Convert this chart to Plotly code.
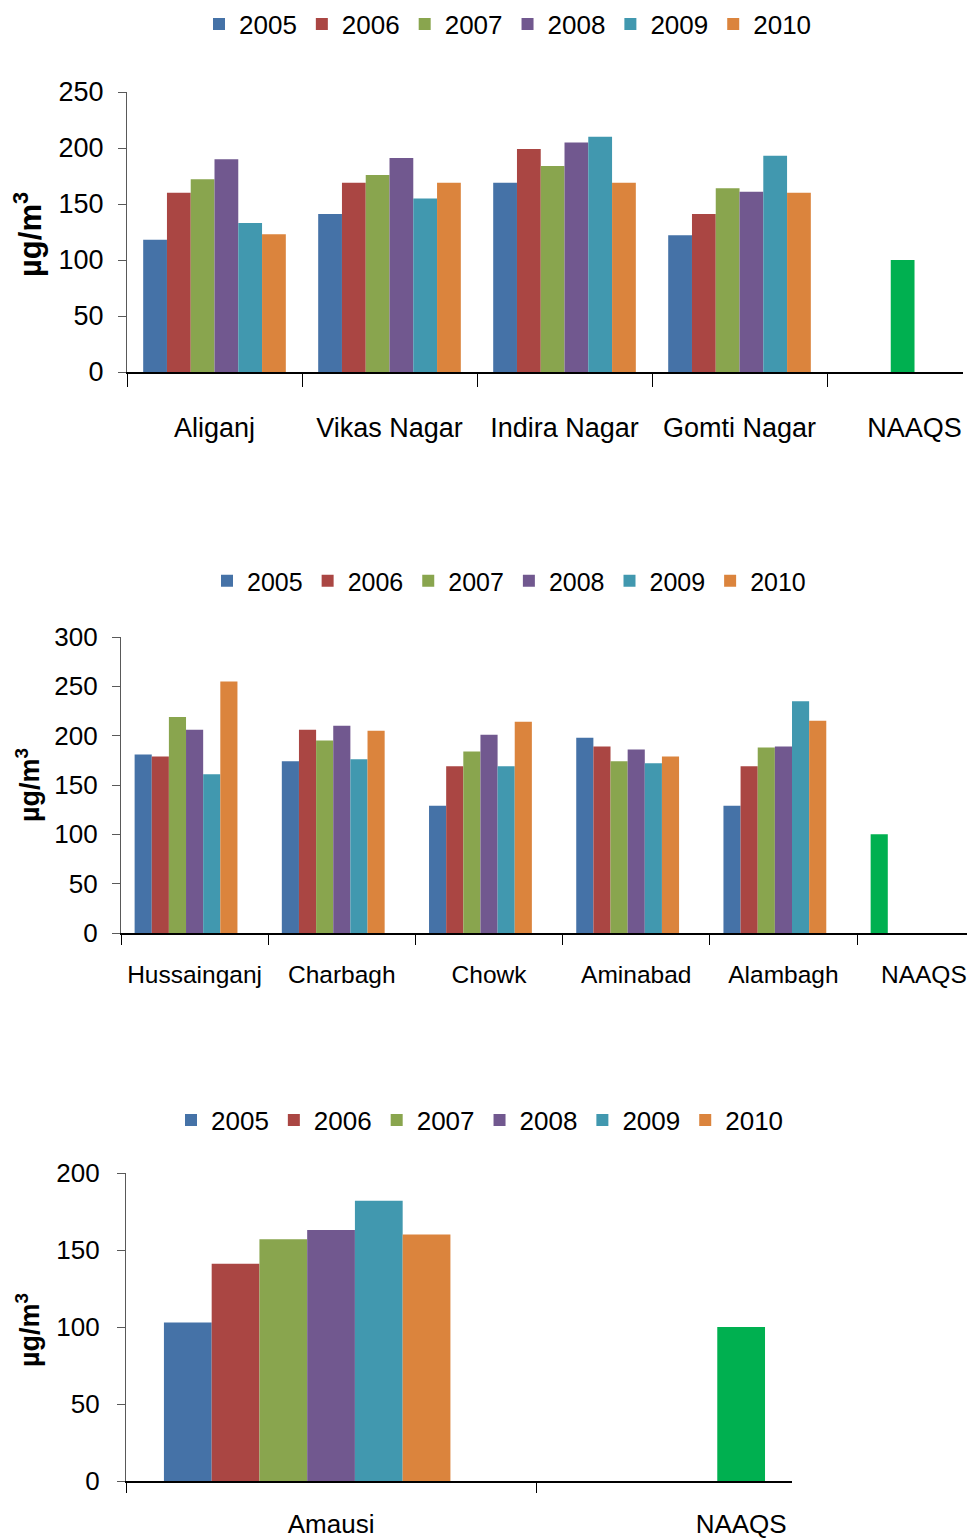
import plotly.graph_objects as go

# années / couleurs (style Excel 2007)
years = ['2005', '2006', '2007', '2008', '2009', '2010']
colors = ['#4572A7', '#AA4643', '#89A54E', '#71588F', '#4198AF', '#DB843D']
naaqs_color = '#00B050'
naaqs = 100

# panneau 1 : valeurs par site (2005 -> 2010)
sites1 = ['Aliganj', 'Vikas Nagar', 'Indira Nagar', 'Gomti Nagar']
aliganj = [118, 160, 172, 190, 133, 123]
vikas_nagar = [141, 169, 176, 191, 155, 169]
indira_nagar = [169, 199, 184, 205, 210, 169]
gomti_nagar = [122, 141, 164, 161, 193, 160]

# panneau 2
sites2 = ['Hussainganj', 'Charbagh', 'Chowk', 'Aminabad', 'Alambagh']
hussainganj = [181, 179, 219, 206, 161, 255]
charbagh = [174, 206, 195, 210, 176, 205]
chowk = [129, 169, 184, 201, 169, 214]
aminabad = [198, 189, 174, 186, 172, 179]
alambagh = [129, 169, 188, 189, 235, 215]

# panneau 3
sites3 = ['Amausi']
amausi = [103, 141, 157, 163, 182, 160]

FONT = 'Liberation Sans, Arial'

panels = [
    dict(sites=sites1, rows=[aliganj, vikas_nagar, indira_nagar, gomti_nagar],
         naaqs_series=2, hidden=False, xa='x', ya='y', legend='legend'),
    dict(sites=sites2, rows=[hussainganj, charbagh, chowk, aminabad, alambagh],
         naaqs_series=0, hidden=True, xa='x2', ya='y2', legend='legend2'),
    dict(sites=sites3, rows=[amausi],
         naaqs_series=3, hidden=True, xa='x3', ya='y3', legend='legend3'),
]

fig = go.Figure()

for p in panels:
    cats = p['sites'] + ['NAAQS']
    for i, yr in enumerate(years):
        vals = [r[i] for r in p['rows']]
        cols = [colors[i]] * len(vals)
        if i == p['naaqs_series']:
            vals.append(naaqs)
            cols.append(naaqs_color)
        else:
            vals.append(None)
            cols.append(colors[i])
        fig.add_trace(go.Bar(x=cats, y=vals, name=yr, marker_color=cols,
                             marker_line_width=0, xaxis=p['xa'], yaxis=p['ya'],
                             legend=p['legend']))
    if p['hidden']:
        # série vide (7e emplacement du groupe dans le graphique d'origine)
        fig.add_trace(go.Bar(x=cats, y=[0] * len(cats), showlegend=False,
                             marker_line_width=0, marker_color='rgba(0,0,0,0)',
                             xaxis=p['xa'], yaxis=p['ya'], hoverinfo='skip'))

H = 1538.0
W = 959.0   # 8 px de marge du <body> de chaque côté -> 975
OFF = 8


def px_x(a):
    return (a - OFF) / W


def px_y(a):
    return 1 - (a - OFF) / H


def xdom(a, b):
    return [px_x(a), min(px_x(b), 1.0)]


def ydom(bottom, top):
    return [px_y(bottom), px_y(top)]


xcommon = dict(type='category', showline=True, linecolor='black', linewidth=2,
               ticks='outside', tickson='boundaries', tickcolor='black', tickwidth=1.3,
               showgrid=False, zeroline=False, tickangle=0, automargin=False)
ycommon = dict(showline=True, linecolor='#595959', linewidth=1.2, ticks='outside',
               ticklen=8, tickcolor='#595959', showgrid=False, zeroline=False, dtick=50,
               automargin=False)

cats2 = sites2 + ['NAAQS']
# dernier libellé décalé un peu à gauche pour rester dans la page
labels2 = sites2 + ['NAAQS\u00a0\u00a0']

fig.update_layout(
    width=int(W), height=int(H),
    margin=dict(l=0, r=0, t=0, b=0, autoexpand=False),
    plot_bgcolor='white', paper_bgcolor='white',
    barmode='group', bargap=0.185, bargroupgap=0,
    xaxis=dict(xcommon, domain=xdom(127, 963), range=[-0.5, 4.277], anchor='y',
               ticklen=13, tickfont=dict(family=FONT, size=27, color='black'),
               ticklabelstandoff=31),
    yaxis=dict(ycommon, domain=ydom(372, 92), range=[0, 250], anchor='x',
               tickfont=dict(family=FONT, size=27, color='black'), ticklabelstandoff=9),
    xaxis2=dict(xcommon, domain=xdom(121, 975), range=[-0.5, 5.247], anchor='y2',
                ticklen=10, tickfont=dict(family=FONT, size=24.5, color='black'),
                tickmode='array', tickvals=cats2, ticktext=labels2,
                ticklabelstandoff=19),
    yaxis2=dict(ycommon, domain=ydom(933, 637), range=[0, 300], anchor='x2',
                tickfont=dict(family=FONT, size=26, color='black'), ticklabelstandoff=9),
    xaxis3=dict(xcommon, domain=xdom(126, 792), range=[-0.5, 1.124], anchor='y3',
                ticklen=10, tickfont=dict(family=FONT, size=26, color='black'),
                ticklabelstandoff=19),
    yaxis3=dict(ycommon, domain=ydom(1481, 1173), range=[0, 200], anchor='x3',
                tickfont=dict(family=FONT, size=26, color='black'), ticklabelstandoff=12),
    legend=dict(orientation='h', x=px_x(508), xanchor='center', y=px_y(24), yanchor='middle',
                font=dict(family=FONT, size=26, color='black'), traceorder='normal'),
    legend2=dict(orientation='h', x=px_x(509), xanchor='center', y=px_y(581), yanchor='middle',
                 font=dict(family=FONT, size=25, color='black'), traceorder='normal'),
    legend3=dict(orientation='h', x=px_x(480), xanchor='center', y=px_y(1120), yanchor='middle',
                 font=dict(family=FONT, size=26, color='black'), traceorder='normal'),
)

# titres des axes Y
for ycen, size in [(235, 31), (785, 27), (1330, 27)]:
    fig.add_annotation(text='<b>µg/m<sup>3</sup></b>', textangle=-90, showarrow=False,
                       xref='paper', yref='paper', x=px_x(28), y=px_y(ycen),
                       xanchor='center', yanchor='middle',
                       font=dict(family=FONT, size=size, color='black'))

fig.write_html('out.html')
